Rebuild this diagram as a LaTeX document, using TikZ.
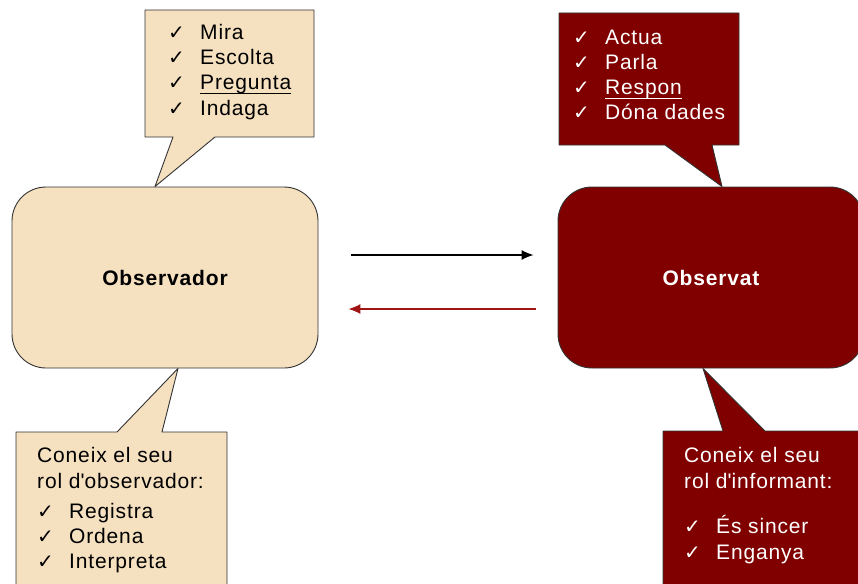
\documentclass[tikz,border=0pt]{standalone}
\usepackage{fontspec}
\setmainfont{Liberation Sans}[LetterSpace=4]
\newfontfamily\chkfont{DejaVu Sans}
\usetikzlibrary{arrows.meta,calc}
\definecolor{beige}{RGB}{245,224,192}
\definecolor{granat}{RGB}{128,0,0}
\definecolor{vermell}{RGB}{160,20,20}
\newcommand{\chk}{{\chkfont\fontsize{20}{20}\selectfont ✓}}
\newcommand{\itm}[1]{\makebox[32pt][l]{\chk}#1}
\newcommand{\subr}[1]{\setbox0\hbox{#1}\rlap{\rule[-4.5pt]{\wd0}{1.1pt}}\box0}

\begin{document}
\begin{tikzpicture}[x=1pt,y=-1pt,>={Latex[length=12pt,width=10pt]},line join=round,
  caixa/.style={draw=black!80,line width=0.9pt,rounded corners=34pt,
    minimum width=306pt,minimum height=181pt,
    font=\fontsize{21}{25}\selectfont\bfseries},
  bafarada/.style={draw=black!80,line width=0.9pt},
  linia/.style={anchor=base west,inner sep=0pt,font=\fontsize{21}{25}\selectfont},
]
\useasboundingbox (0,0) rectangle (858,583);
\clip (0,0) rectangle (858,583);
%%
\node (obsr) at (165,277.5) [caixa,fill=beige] {Observador};
\node (obst) at (711,277.5) [caixa,fill=granat,text=white] {Observat};
%
\draw [black,line width=1.2pt,->,shorten <=33pt,shorten >=24pt]
  ([yshift=22.5pt]obsr.east) -- ([yshift=22.5pt]obst.west);
\draw [vermell,line width=1.2pt,->,shorten <=22pt,shorten >=30pt]
  ([yshift=-31.5pt]obst.west) -- ([yshift=-31.5pt]obsr.east);
%
\coordinate (punta_a) at ($(obsr.north)+(-10,0)$);
\coordinate (punta_b) at ($(obst.north)+(11,0)$);
\coordinate (punta_c) at ($(obsr.south)+(13,0)$);
\coordinate (punta_d) at ($(obst.south)+(-8,0)$);
\draw [bafarada,fill=beige] (145,10) -- (314,10) -- (314,137) -- (215,137)
  -- (punta_a) -- (173,137) -- (145,137) -- cycle;
\draw [bafarada,fill=granat] (559,13) -- (739,13) -- (739,145) -- (712,145)
  -- (punta_b) -- (665,145) -- (559,145) -- cycle;
\draw [bafarada,fill=beige] (16,600) -- (16,432) -- (117,432)
  -- (punta_c) -- (162,432) -- (227,432) -- (227,600);
\draw [bafarada,fill=granat] (663,600) -- (663,431) -- (723,431)
  -- (punta_d) -- (765,431) -- (870,431) -- (870,600);
%
\node (mira) at (168,40) [linia] {\itm{Mira}};
\node (escolta) at (168,65) [linia] {\itm{Escolta}};
\node (pregunta) at (168,90) [linia] {\itm{\subr{Pregunta}}};
\node (indaga) at (168,115) [linia] {\itm{Indaga}};
%
\node (actua) at (573,45) [linia,text=white] {\itm{Actua}};
\node (parla) at (573,70) [linia,text=white] {\itm{Parla}};
\node (respon) at (573,95) [linia,text=white] {\itm{\subr{Respon}}};
\node (dades) at (573,120) [linia,text=white] {\itm{Dóna dades}};
%
\node (coneix_a) at (37,462) [linia] {Coneix el seu};
\node (rol_a) at (37,488) [linia] {rol d\textquotesingle observador:};
\node (registra) at (37,518) [linia] {\itm{Registra}};
\node (ordena) at (37,543) [linia] {\itm{Ordena}};
\node (interpreta) at (37,568) [linia] {\itm{Interpreta}};
%
\node (coneix_b) at (684,462) [linia,text=white] {Coneix el seu};
\node (rol_b) at (684,488) [linia,text=white] {rol d\textquotesingle informant:};
\node (sincer) at (684,533) [linia,text=white] {\itm{És sincer}};
\node (enganya) at (684,559) [linia,text=white] {\itm{Enganya}};
%
\end{tikzpicture}
\end{document}
